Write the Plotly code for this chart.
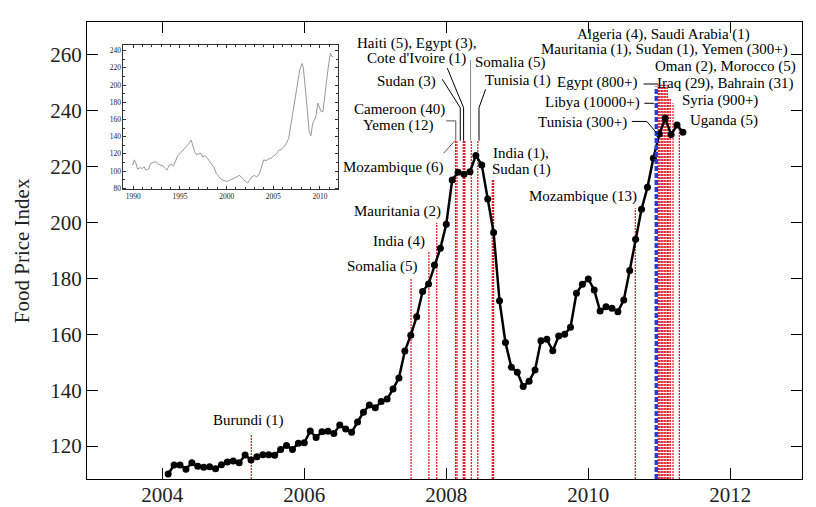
import plotly.graph_objects as go

# -----------------------------
# FAO food price index, monthly
# -----------------------------
fpi_2004 = [110.0, 113.2, 113.2, 111.7, 114.0, 112.8, 112.4, 112.6, 111.9, 113.3, 114.3]  # Feb-Dec
fpi_2005 = [114.6, 114.0, 116.8, 115.0, 116.2, 116.9, 116.9, 116.7, 118.8, 120.2, 118.8, 121.0]
fpi_2006 = [121.2, 125.4, 123.1, 125.1, 125.3, 124.5, 127.5, 126.1, 124.9, 128.6, 132.1, 134.7]
fpi_2007 = [133.7, 135.9, 136.8, 140.4, 144.4, 154.0, 159.7, 166.3, 175.3, 178.0, 184.8, 190.8]
fpi_2008 = [199.4, 215.2, 218.0, 217.3, 218.2, 224.0, 220.6, 208.4, 196.4, 172.0, 157.1, 148.2]
fpi_2009 = [146.4, 141.3, 143.2, 147.2, 157.7, 158.2, 154.1, 159.4, 160.0, 162.5, 174.7, 177.9]
fpi_2010 = [179.8, 175.9, 168.3, 169.9, 169.3, 168.1, 172.3, 182.8, 194.0, 204.8, 212.6, 223.0]
fpi_2011 = [231.7, 237.3, 231.5, 234.9, 232.3]  # Jan-May

# riots (decimal year, height of the marker line)
riot_dates = [2005.254, 2007.504, 2007.755, 2007.866,
              2008.131, 2008.151, 2008.239, 2008.251, 2008.262, 2008.352, 2008.444,
              2008.648, 2008.666, 2010.662,
              2010.986, 2011.007, 2011.028, 2011.049, 2011.070, 2011.092, 2011.113,
              2011.134, 2011.155, 2011.193, 2011.282]
riot_tops = [124.3, 179.8, 189.8, 199.9,
             229.5, 229.5, 229.5, 229.5, 229.5, 229.5, 229.5,
             215.2, 215.2, 205.1,
             249.3, 249.3, 249.3, 249.3, 249.3, 249.3, 249.3,
             244.5, 244.5, 242.7, 235.5]
report_date = 2010.958
report_top = 248.7

# inset: index since 1990
inset_year = [1989.93, 1990.11, 1990.25, 1990.47, 1990.72, 1990.97, 1991.15, 1991.37, 1991.62,
              1991.87, 1992.16, 1992.41, 1992.63, 1992.88, 1993.17, 1993.42, 1993.60, 1993.86,
              1994.07, 1994.32, 1994.50, 1994.76, 1994.97, 1995.23, 1995.48, 1995.69, 1995.95,
              1996.20, 1996.38, 1996.56, 1996.77, 1997.03, 1997.21, 1997.46, 1997.68, 1997.93,
              1998.18, 1998.40, 1998.65, 1998.90, 1999.19, 1999.44, 1999.73, 2000.02, 2000.27,
              2000.52, 2000.81, 2001.06, 2001.35, 2001.60, 2001.82, 2002.07, 2002.25, 2002.43,
              2002.68, 2002.97, 2003.23, 2003.51, 2003.77, 2003.98, 2004.23, 2004.49, 2004.77,
              2005.03, 2005.32, 2005.57, 2005.86, 2006.11, 2006.40, 2006.65, 2006.86, 2007.12,
              2007.37, 2007.59, 2007.84, 2008.09, 2008.23, 2008.45, 2008.67, 2008.85, 2009.03,
              2009.21, 2009.39, 2009.57, 2009.77, 2009.95, 2010.14, 2010.32, 2010.50, 2010.68,
              2010.94, 2011.12, 2011.30, 2011.44]
inset_index = [107, 113, 110, 102, 104, 103, 105, 101, 102,
               109, 110, 111, 108, 107, 106, 103, 101, 107,
               108, 106, 111, 118, 120, 123, 126, 128, 132,
               136, 130, 123, 119, 120, 121, 116, 118, 115,
               111, 107, 104, 97, 93, 90, 89, 88, 89,
               90, 92, 93, 95, 93, 90, 88, 86, 89,
               93, 95, 93, 97, 107, 113, 112, 114, 115,
               117, 120, 124, 125, 128, 132, 138, 152, 169,
               187, 204, 218, 225, 219, 194, 163, 146, 141,
               155, 159, 164, 179, 173, 169, 169, 183, 202,
               225, 237, 233, 233]

# labels
label_text = ["Burundi (1)", "Somalia (5)", "India (4)", "Mauritania (2)", "Mozambique (6)",
              "Yemen (12)", "Cameroon (40)", "Sudan (3)", "Haiti (5), Egypt (3),", "Cote d'Ivoire (1)",
              "Somalia (5)", "Tunisia (1)", "India (1),", "Sudan (1)", "Mozambique (13)",
              "Tunisia (300+)", "Libya (10000+)", "Egypt (800+)",
              "Algeria (4), Saudi Arabia (1)", "Mauritania (1), Sudan (1), Yemen (300+)",
              "Oman (2), Morocco (5)", "Iraq (29), Bahrain (31)", "Syria (900+)", "Uganda (5)"]
label_x = [2005.211, 2007.620, 2007.728, 2007.958, 2007.986,
           2007.859, 2008.010, 2007.877, 2007.594, 2007.577,
           2008.380, 2008.517, 2009.056, 2009.056, 2010.708,
           2010.568, 2010.756, 2010.732,
           2011.061, 2011.068,
           2011.930, 2011.930, 2011.286, 2011.399]
label_y = [129.3, 184.1, 193.2, 204.1, 219.7,
           234.9, 240.6, 250.4, 264.2, 258.8,
           257.2, 251.0, 224.6, 219.1, 209.5,
           235.8, 242.9, 250.1,
           267.5, 261.8,
           255.9, 249.8, 243.6, 236.5]
label_anchor = ["center", "right", "right", "right", "right",
                "right", "right", "right", "center", "center",
                "left", "left", "center", "center", "right",
                "right", "right", "right",
                "center", "center",
                "center", "center", "left", "left"]

# leader lines: (x list, y list, colour)
leaders = [
    ([2007.962, 2008.120], [224.8, 229.3], "#555555"),                      # Mozambique (6)
    ([2008.000, 2008.134, 2008.134], [236.4, 236.4, 229.3], "#555555"),     # Yemen (12)
    ([2007.944, 2008.197, 2008.197], [251.3, 241.1, 229.3], "black"),       # Sudan (3)
    ([2008.014, 2008.244, 2008.244], [255.3, 241.1, 229.3], "black"),       # Haiti...
    ([2008.342, 2008.342], [258.2, 229.3], "#888888"),                      # Somalia (5)
    ([2008.554, 2008.461, 2008.461], [247.7, 241.1, 229.3], "black"),       # Tunisia (1)
    ([2010.613, 2010.824, 2010.986], [236.2, 236.2, 231.4], "black"),       # Tunisia (300+)
    ([2010.789, 2010.925], [242.7, 242.7], "black"),                        # Libya
    ([2010.779, 2010.986], [249.6, 249.6], "black"),                        # Egypt
]

SERIF = "Liberation Serif"
Y_MIN, Y_MAX = 108.2, 271.8

months_x, fpi = [], []
for yr, first, vals in [(2004, 2, fpi_2004), (2005, 1, fpi_2005), (2006, 1, fpi_2006),
                        (2007, 1, fpi_2007), (2008, 1, fpi_2008), (2009, 1, fpi_2009),
                        (2010, 1, fpi_2010), (2011, 1, fpi_2011)]:
    months_x += [yr + (first - 1 + i) / 12 for i in range(len(vals))]
    fpi += vals

fig = go.Figure()

fig.add_trace(go.Scatter(x=months_x, y=fpi, mode='lines+markers',
    line=dict(color='black', width=2.5), marker=dict(color='black', size=7),
    showlegend=False, hoverinfo='skip'))

fig.add_trace(go.Scatter(x=inset_year, y=inset_index, mode='lines',
    line=dict(color='#8c8c8c', width=0.9), xaxis='x2', yaxis='y2',
    showlegend=False, hoverinfo='skip'))

shapes = []
for d, top in zip(riot_dates, riot_tops):
    shapes.append(dict(type='line', xref='x', yref='y', x0=d, x1=d, y0=Y_MIN, y1=top,
                       line=dict(color='#e3101a', width=1.2, dash='2px,1px'), layer='below'))
shapes.append(dict(type='line', xref='x', yref='y', x0=report_date, x1=report_date,
                   y0=Y_MIN, y1=report_top,
                   line=dict(color='#1f3fe0', width=3.5, dash='5px,2px')))
for xs, ys, col in leaders:
    path = 'M ' + ' L '.join(f'{a},{b}' for a, b in zip(xs, ys))
    shapes.append(dict(type='path', xref='x', yref='y', path=path,
                       line=dict(color=col, width=1)))

annotations = [dict(x=x, y=y, text=t, xanchor=a, yanchor='middle', showarrow=False,
                    font=dict(family=SERIF, size=15, color='black'))
               for t, x, y, a in zip(label_text, label_x, label_y, label_anchor)]
annotations.append(dict(xref='paper', yref='paper', x=-0.0913, y=0.5, text='Food Price Index',
                        textangle=-90, showarrow=False, xanchor='center', yanchor='middle',
                        font=dict(family=SERIF, size=21, color='#222222')))

axis_common = dict(showline=True, linecolor='black', linewidth=1.3, mirror='ticks',
                   ticks='inside', ticklen=11, tickcolor='black', tickwidth=1.3,
                   showgrid=False, zeroline=False, automargin=False,
                   tickfont=dict(family=SERIF, size=21, color='#222222'))
inset_common = dict(showline=True, linecolor='#333333', linewidth=0.8, mirror='allticks',
                    ticks='inside', ticklen=3, tickcolor='#333333', tickwidth=0.8,
                    showgrid=False, zeroline=False, automargin=False,
                    tickfont=dict(family=SERIF, size=7.5, color='#222222'))

# the page body adds an 8px offset, so margins are set 8px smaller at left/top
fig.update_layout(
    width=816, height=507,
    margin=dict(l=79, r=22, t=14, b=36),
    paper_bgcolor='white', plot_bgcolor='white',
    xaxis=dict(range=[2002.94, 2013.01], tickvals=[2004, 2006, 2008, 2010, 2012],
               ticklabelstandoff=-3, **axis_common),
    yaxis=dict(range=[Y_MIN, Y_MAX], tickvals=[120, 140, 160, 180, 200, 220, 240, 260],
               **axis_common),
    xaxis2=dict(domain=[0.0508, 0.351], anchor='y2', range=[1988.93, 2011.93],
                tickvals=[1990, 1995, 2000, 2005, 2010],
                minor=dict(dtick=1, ticklen=2, tickcolor='#333333', ticks='inside'),
                **inset_common),
    yaxis2=dict(domain=[0.634, 0.9497], anchor='x2', range=[78.8, 246.6],
                tickvals=[80, 100, 120, 140, 160, 180, 200, 220, 240],
                minor=dict(dtick=10, ticklen=2, tickcolor='#333333', ticks='inside'),
                **inset_common),
    shapes=shapes,
    annotations=annotations,
)

fig.write_html("out.html")
